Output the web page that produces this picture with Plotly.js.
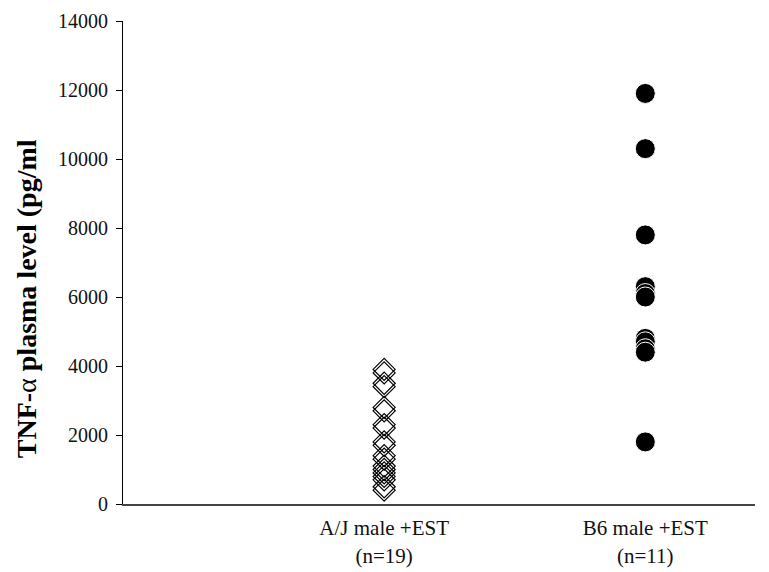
<!DOCTYPE html>
<html>
<head>
<meta charset="utf-8">
<script src="https://cdn.plot.ly/plotly-3.0.1.min.js"></script>
<style>html,body{margin:0;padding:0;background:#fff;}#chart{width:769px;height:572px;}</style>
</head>
<body>
<div id="chart"></div>
<script>
var groupLabels = ["A/J male +EST<br>(n=19)", "B6 male +EST<br>(n=11)"];
var groupPositions = [1, 2];
var ajValues = [3900, 3800, 3500, 3400, 2800, 2700, 2300, 2200, 1800, 1700, 1400, 1300, 1100, 1000, 900, 800, 700, 500, 400];
var b6Values = [11900, 10300, 7800, 6300, 6100, 6000, 4800, 4700, 4500, 4400, 1800];
var yTicks = [0, 2000, 4000, 6000, 8000, 10000, 12000, 14000];
var yTitle = '<b>TNF-</b>α<b> plasma level (pg/ml</b>';

var traces = [
  {
    x: ajValues.map(function(){return groupPositions[0];}),
    y: ajValues,
    type: 'scatter', mode: 'markers',
    marker: {symbol: 'diamond-open', size: 17, color: '#000', line: {width: 1.2, color: '#000'}},
    hoverinfo: 'y'
  },
  {
    x: b6Values.map(function(){return groupPositions[1];}),
    y: b6Values,
    type: 'scatter', mode: 'markers',
    marker: {symbol: 'circle', size: 20, color: '#000', line: {width: 1, color: '#fff'}},
    hoverinfo: 'y'
  }
];

var layout = {
  width: 769, height: 572,
  margin: {l: 123, r: 14, t: 21, b: 68},
  paper_bgcolor: '#fff', plot_bgcolor: '#fff',
  showlegend: false,
  font: {family: '"Liberation Serif", "Times New Roman", serif', color: '#000'},
  xaxis: {
    range: [0, 2.42],
    tickvals: groupPositions,
    ticktext: groupLabels,
    ticks: '', showgrid: false, zeroline: false,
    showline: true, linecolor: '#444', linewidth: 2,
    ticklabelstandoff: 4,
    tickfont: {size: 21, family: '"Liberation Serif", serif', color: '#111'}
  },
  yaxis: {
    range: [0, 14000],
    tickvals: yTicks,
    ticktext: yTicks.map(String),
    ticks: 'outside', ticklen: 6, tickcolor: '#000', tickwidth: 1,
    ticklabelstandoff: 4,
    showgrid: false, zeroline: false,
    showline: true, linecolor: '#000', linewidth: 1,
    tickfont: {size: 20, family: '"Liberation Serif", serif', color: '#111'}
  },
  annotations: [{
    text: yTitle,
    xref: 'paper', yref: 'paper',
    x: 0, y: 0.424,
    xshift: -97,
    xanchor: 'center', yanchor: 'middle',
    textangle: -90,
    showarrow: false,
    font: {size: 28, family: '"Liberation Serif", serif', color: '#000'}
  }]
};

Plotly.newPlot('chart', traces, layout, {displayModeBar: false, staticPlot: true});
</script>
</body>
</html>
